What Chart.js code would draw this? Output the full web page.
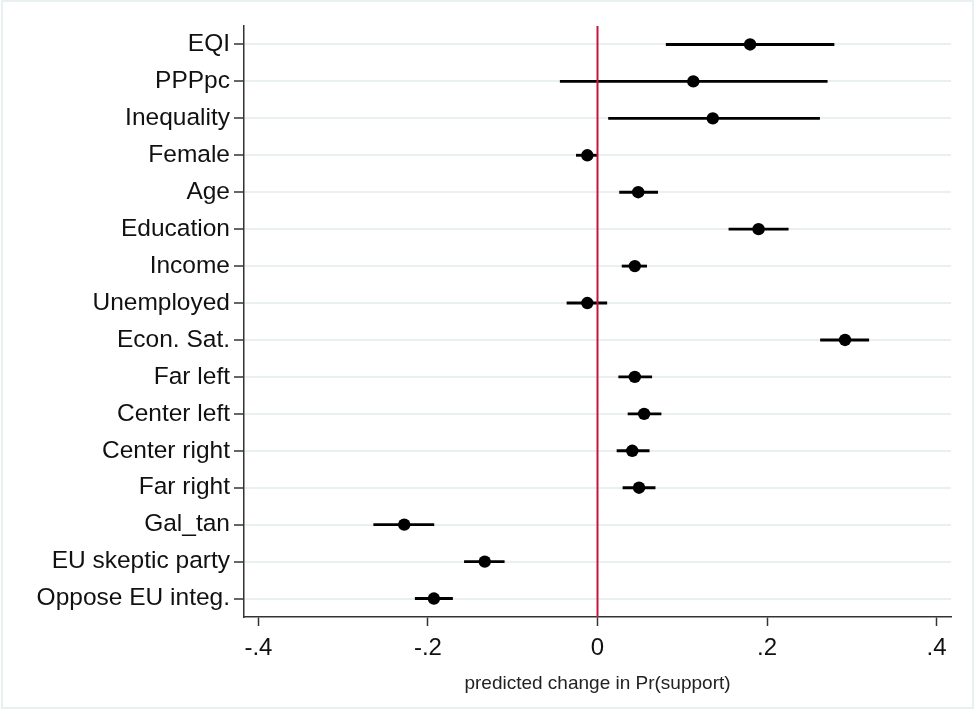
<!DOCTYPE html>
<html>
<head>
<meta charset="utf-8">
<script src="https://cdn.jsdelivr.net/npm/chart.js@4.4.1/dist/chart.umd.min.js"></script>
<style>
  body { margin: 0; background: #fff; }
  #wrap { position: relative; width: 975px; height: 709px; }
  #frame { position: absolute; left: 1px; top: 0; width: 973px; height: 709px;
           border: 2px solid #e8f0f2; box-sizing: border-box; pointer-events: none; }
</style>
</head>
<body>
<div id="wrap">
  <canvas id="coefChart" width="975" height="709"></canvas>
  <div id="frame"></div>
</div>
<script>
// variables, top to bottom
var categories = ['EQI', 'PPPpc', 'Inequality', 'Female', 'Age', 'Education', 'Income',
    'Unemployed', 'Econ. Sat.', 'Far left', 'Center left', 'Center right', 'Far right',
    'Gal_tan', 'EU skeptic party', 'Oppose EU integ.'];

// predicted change in Pr(support) and its interval
var estimate = [0.180, 0.113, 0.136, -0.012, 0.048, 0.190, 0.044, -0.012, 0.292,
    0.044, 0.055, 0.041, 0.049, -0.228, -0.133, -0.193];
var lower = [0.081, -0.044, 0.013, -0.025, 0.026, 0.155, 0.029, -0.036, 0.263,
    0.025, 0.036, 0.023, 0.030, -0.264, -0.157, -0.215];
var upper = [0.279, 0.271, 0.262, 0.000, 0.071, 0.225, 0.058, 0.011, 0.320,
    0.064, 0.075, 0.061, 0.068, -0.193, -0.110, -0.171];

var xTicks = [-0.4, -0.2, 0, 0.2, 0.4];
var xTickLabels = ['-.4', '-.2', '0', '.2', '.4'];
var refLine = 0;

var intervals = lower.map(function (lo, i) { return [lo, upper[i]]; });

// red reference line at zero, drawn over the intervals
var refLinePlugin = {
    id: 'refLine',
    afterDatasetsDraw: function (chart) {
        var ctx = chart.ctx;
        var area = chart.chartArea;
        var x = chart.scales.x.getPixelForValue(refLine);
        ctx.save();
        ctx.strokeStyle = '#c8153f';
        ctx.lineWidth = 2;
        ctx.beginPath();
        ctx.moveTo(x, area.top);
        ctx.lineTo(x, area.bottom);
        ctx.stroke();
        ctx.restore();
    }
};

var ctx = document.getElementById('coefChart').getContext('2d');
var myChart = new Chart(ctx, {
    type: 'bar',
    data: {
        labels: categories,
        datasets: [{
            type: 'line',
            data: estimate,
            showLine: false,
            pointRadius: 6.2,
            pointBackgroundColor: '#000',
            pointBorderWidth: 0,
            order: 0
        }, {
            data: intervals,
            backgroundColor: '#000',
            borderWidth: 0,
            barThickness: 2.2,
            order: 1
        }]
    },
    options: {
        indexAxis: 'y',
        responsive: false,
        animation: false,
        events: [],
        layout: { padding: { left: 4, right: 24, top: 26, bottom: 0 } },
        plugins: {
            legend: { display: false },
            tooltip: { enabled: false }
        },
        scales: {
            y: {
                type: 'category',
                offset: true,
                afterFit: function (scale) { scale.width = 240; },
                border: { display: true, color: '#333', width: 1.5 },
                grid: {
                    offset: false,
                    color: '#e8f0f2',
                    lineWidth: 2,
                    tickColor: '#333',
                    tickWidth: 1.5,
                    tickLength: 10
                },
                ticks: {
                    color: '#111',
                    padding: 4,
                    font: { family: 'Liberation Sans, Arial, sans-serif', size: 24.5 }
                }
            },
            x: {
                type: 'linear',
                min: -0.417,
                max: 0.417,
                afterBuildTicks: function (scale) {
                    scale.ticks = xTicks.map(function (v) { return { value: v }; });
                },
                afterFit: function (scale) { scale.height = 92; },
                border: { display: true, color: '#333', width: 1.5 },
                grid: {
                    drawOnChartArea: false,
                    tickColor: '#333',
                    tickWidth: 1.5,
                    tickLength: 9
                },
                ticks: {
                    color: '#111',
                    padding: 8,
                    maxRotation: 0,
                    font: { family: 'Liberation Sans, Arial, sans-serif', size: 24 },
                    callback: function (value, index) { return xTickLabels[index]; }
                },
                title: {
                    display: true,
                    text: 'predicted change in Pr(support)',
                    color: '#222',
                    font: { family: 'Liberation Sans, Arial, sans-serif', size: 19 },
                    padding: { top: 0, bottom: 14 }
                }
            }
        }
    },
    plugins: [refLinePlugin]
});
</script>
</body>
</html>
